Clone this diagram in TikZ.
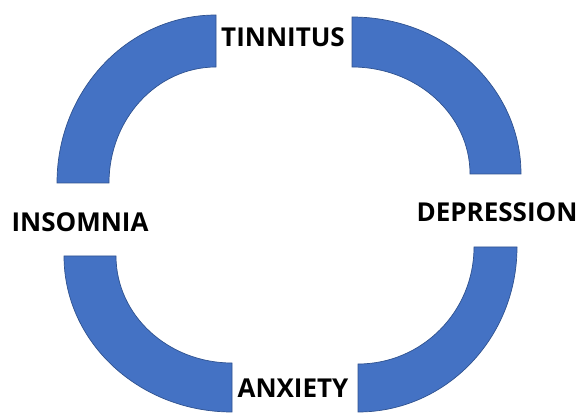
\documentclass[tikz,border=0pt]{standalone}
\usepackage{fontspec}
\setmainfont{Open Sans}
\definecolor{bandfill}{HTML}{4472C4}
\definecolor{bandline}{HTML}{2F528F}
\tikzset{
  band/.style={fill=bandfill,draw=bandline,line width=0.7pt,line join=miter},
  lbl/.style={font=\bfseries\fontsize{26}{28}\selectfont,inner sep=0pt,anchor=center}
}
\begin{document}
\begin{tikzpicture}[x=1pt,y=1pt]
\useasboundingbox (0,0) rectangle (580,412);
% top-left band, centre (216,229)
\draw[band] (57,229) arc[start angle=180,end angle=90,x radius=159pt,y radius=168pt]
  -- (216,345) arc[start angle=90,end angle=180,x radius=107pt,y radius=116pt] -- cycle;
% top-right band, centre (352,238)
\draw[band] (352,395) arc[start angle=90,end angle=0,x radius=169pt,y radius=157pt]
  -- (470,238) arc[start angle=0,end angle=90,x radius=118pt,y radius=107pt] -- cycle;
% bottom-left band, centre (232,156)
\draw[band] (64,156) arc[start angle=180,end angle=270,x radius=168pt,y radius=156pt]
  -- (232,49) arc[start angle=270,end angle=180,x radius=116pt,y radius=107pt] -- cycle;
% bottom-right band, centre (358,165)
\draw[band] (517,165) arc[start angle=0,end angle=-90,x radius=159pt,y radius=165pt]
  -- (358,48) arc[start angle=-90,end angle=0,x radius=116pt,y radius=117pt] -- cycle;
% labels
\node[lbl] (tinnitus) at (283,375) {TINNITUS};
\node[lbl] (depression) at (497,200) {DEPRESSION};
\node[lbl] (insomnia) at (80,189.5) {INSOMNIA};
\node[lbl] (anxiety) at (293,24) {ANXIETY};
\end{tikzpicture}
\end{document}
